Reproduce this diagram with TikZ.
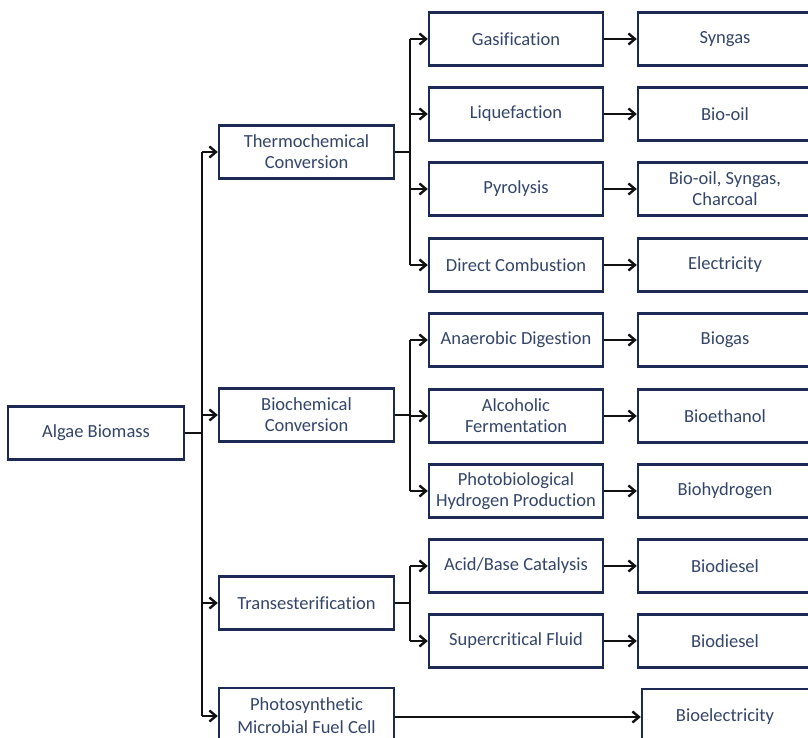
\documentclass[tikz,border=0pt]{standalone}
\usepackage{fontspec}
\setmainfont{Carlito}[Ligatures=NoCommon]
\usetikzlibrary{arrows.meta,calc}
\definecolor{boxline}{HTML}{1C2A55}
\definecolor{boxtext}{HTML}{34456A}
\definecolor{conn}{HTML}{111111}
\tikzset{
  box/.style={draw=boxline, line width=2.4pt, fill=white, text=boxtext,
    inner sep=0pt, align=center, font=\fontsize{18.5}{21}\selectfont},
  lone/.style={box, minimum width=175pt, minimum height=53pt},
  ltwo/.style={box, minimum width=174pt, minimum height=53pt},
  lthree/.style={box, minimum width=182pt, minimum height=53pt},
  link/.style={draw=conn, line width=2.4pt},
  arr/.style={link, -{Straight Barb[length=6.5pt,width=11pt,line width=2.4pt]}},
}
\begin{document}
\begin{tikzpicture}[x=1pt,y=-1pt]
\useasboundingbox (0,0) rectangle (808,738);
\fill[white] (0,0) rectangle (808,738);

\node[box, minimum width=176pt, minimum height=53pt] (alg) at (96,433) {Algae Biomass};

\node[lone] (th) at (306.5,152) {Thermochemical\\Conversion};
\node[lone] (bc) at (306.5,415) {Biochemical\\Conversion};
\node[lone] (tr) at (306.5,603) {Transesterification};
\node[box, minimum width=175pt, minimum height=56pt] (mfc) at (306.5,716) {Photosynthetic\\[2pt]Microbial Fuel Cell};

\node[ltwo] (gas) at (516,39) {Gasification};
\node[ltwo] (liq) at (516,114) {Liquefaction};
\node[ltwo] (pyr) at (516,189) {Pyrolysis};
\node[ltwo] (dc) at (516,265) {Direct Combustion};
\node[ltwo] (ad) at (516,340) {Anaerobic Digestion};
\node[ltwo] (af) at (516,416) {Alcoholic\\Fermentation};
\node[ltwo] (ph) at (516,491) {Photobiological\\Hydrogen Production};
\node[ltwo] (ab) at (516,566) {Acid/Base Catalysis};
\node[ltwo] (sf) at (516,641) {Supercritical Fluid};

\node[lthree] (o1) at (729,39) {\hspace*{-8pt}Syngas};
\node[lthree] (o2) at (729,114) {\hspace*{-8pt}Bio-oil};
\node[lthree] (o3) at (729,189) {\hspace*{-8pt}Bio-oil, Syngas,\\\hspace*{-8pt}Charcoal};
\node[lthree] (o4) at (729,265) {\hspace*{-8pt}Electricity};
\node[lthree] (o5) at (729,340) {\hspace*{-8pt}Biogas};
\node[lthree] (o6) at (729,416) {\hspace*{-8pt}Bioethanol};
\node[lthree] (o7) at (729,491) {\hspace*{-8pt}Biohydrogen};
\node[lthree] (o8) at (729,566) {\hspace*{-8pt}Biodiesel};
\node[lthree] (o9) at (729,641) {\hspace*{-8pt}Biodiesel};
\node[box, minimum width=178pt, minimum height=56pt] (o10) at (731,717) {\hspace*{-12pt}Bioelectricity};

% trunk
\coordinate (tj) at (202,433);
\draw[link] (alg.east) -- (tj);
\draw[link] (tj |- th.west) -- (tj |- mfc.west);
\draw[arr] (tj |- th.west) -- (th.west);
\draw[arr] (tj |- bc.west) -- (bc.west);
\draw[arr] (tj |- tr.west) -- (tr.west);
\draw[arr] (tj |- mfc.west) -- (mfc.west);

% branches
\coordinate (bj) at (410,0);
\draw[link] (th.east) -- (bj |- th.east);
\draw[link] (bj |- gas.west) -- (bj |- dc.west);
\foreach \n in {gas,liq,pyr,dc} \draw[arr] (bj |- \n.west) -- (\n.west);

\draw[link] (bc.east) -- (bj |- bc.east);
\draw[link] (bj |- ad.west) -- (bj |- ph.west);
\foreach \n in {ad,af,ph} \draw[arr] (bj |- \n.west) -- (\n.west);

\draw[link] (tr.east) -- (bj |- tr.east);
\draw[link] (bj |- ab.west) -- (bj |- sf.west);
\foreach \n in {ab,sf} \draw[arr] (bj |- \n.west) -- (\n.west);

\draw[arr] (mfc.east |- o10.west) -- (o10.west);

% outputs
\draw[arr] (gas) -- (o1);
\draw[arr] (liq) -- (o2);
\draw[arr] (pyr) -- (o3);
\draw[arr] (dc) -- (o4);
\draw[arr] (ad) -- (o5);
\draw[arr] (af) -- (o6);
\draw[arr] (ph) -- (o7);
\draw[arr] (ab) -- (o8);
\draw[arr] (sf) -- (o9);
\end{tikzpicture}
\end{document}
